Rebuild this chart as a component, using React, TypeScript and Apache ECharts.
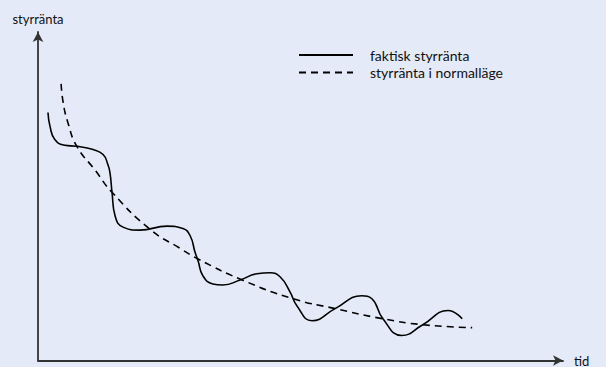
import React, { useEffect, useRef } from "react";
import * as echarts from "echarts";

// time (0..100) and policy rate level (0..100)
const actualTime = [1.9, 2.3, 3.2, 5.1, 7.4, 10.5, 12.4, 13.3, 13.7, 14.1, 14.7, 16.2, 19.4, 24.6, 27.6, 29.0, 29.9, 30.5, 31.4, 33.3, 35.2, 38.5, 41.7, 44.2, 46.1, 48.0, 49.3, 52.2, 56.6, 61.7, 63.6, 65.7, 69.3, 73.3, 78.1, 80.8];
const actualRate = [75.5, 71.2, 67.3, 65.5, 65.2, 64.2, 62.7, 59.7, 57.3, 51.2, 43.9, 40.6, 39.7, 40.9, 40.2, 37.9, 33.0, 30.3, 25.8, 23.3, 23.0, 24.5, 26.4, 26.7, 25.5, 20.9, 16.7, 12.1, 15.8, 19.7, 18.8, 12.7, 7.6, 10.9, 15.2, 12.7];

const normalTime = [4.4, 4.8, 5.7, 7.4, 10.9, 14.1, 21.3, 27.0, 30.5, 38.9, 48.6, 56.6, 65.7, 73.3, 82.7];
const normalRate = [84.2, 78.5, 72.4, 65.2, 57.9, 51.2, 40.0, 34.2, 30.9, 24.5, 18.8, 15.8, 12.7, 10.9, 10.0];

const seriesNames = ["faktisk styrränta", "styrränta i normalläge"];
const yAxisName = "styrränta";
const xAxisName = "tid";

const FONT = "Lato, 'Liberation Sans', sans-serif";

export default function App() {
  const ref = useRef<HTMLDivElement>(null);
  useEffect(() => {
    if (!ref.current) return;
    const chart = echarts.init(ref.current, undefined, { renderer: "svg" });
    const axisLine = {
      show: true,
      symbol: ["none", "arrow"],
      symbolSize: [8, 10],
      lineStyle: { color: "#333", width: 1.8 },
    };
    chart.setOption({
      animation: false,
      backgroundColor: "#e4eaf7",
      textStyle: { fontFamily: FONT },
      grid: { left: 38, right: 43, top: 32, bottom: 5 },
      legend: {
        orient: "vertical",
        left: 298,
        top: 48,
        padding: 0,
        itemWidth: 54,
        itemHeight: 12,
        itemGap: 3.5,
        itemStyle: { opacity: 0 },
        textStyle: { fontFamily: FONT, fontSize: 14, color: "#111", padding: [0, 0, 0, 12] },
        data: seriesNames,
      },
      xAxis: {
        type: "value",
        min: 0,
        max: 100,
        name: xAxisName,
        nameLocation: "end",
        nameGap: 11,
        nameTextStyle: { fontFamily: FONT, fontSize: 13, color: "#111", verticalAlign: "middle" },
        axisLine,
        axisTick: { show: false },
        axisLabel: { show: false },
        splitLine: { show: false },
      },
      yAxis: {
        type: "value",
        min: 0,
        max: 100,
        name: yAxisName,
        nameLocation: "end",
        nameGap: 7,
        nameTextStyle: { fontFamily: FONT, fontSize: 13, color: "#111" },
        axisLine,
        axisTick: { show: false },
        axisLabel: { show: false },
        splitLine: { show: false },
      },
      series: [
        {
          name: seriesNames[0],
          type: "line",
          data: actualTime.map((t, i) => [t, actualRate[i]]),
          smooth: 0.5,
          symbol: "none",
          lineStyle: { color: "#000", width: 1.6 },
          itemStyle: { color: "#000" },
        },
        {
          name: seriesNames[1],
          type: "line",
          data: normalTime.map((t, i) => [t, normalRate[i]]),
          smooth: 0.5,
          symbol: "none",
          lineStyle: { color: "#000", width: 1.6, type: [7, 5] },
          itemStyle: { color: "#000" },
        },
      ],
    });
    return () => chart.dispose();
  }, []);
  return (
    <div
      ref={ref}
      style={{ position: "fixed", left: 0, top: 0, width: 606, height: 367 }}
    />
  );
}
